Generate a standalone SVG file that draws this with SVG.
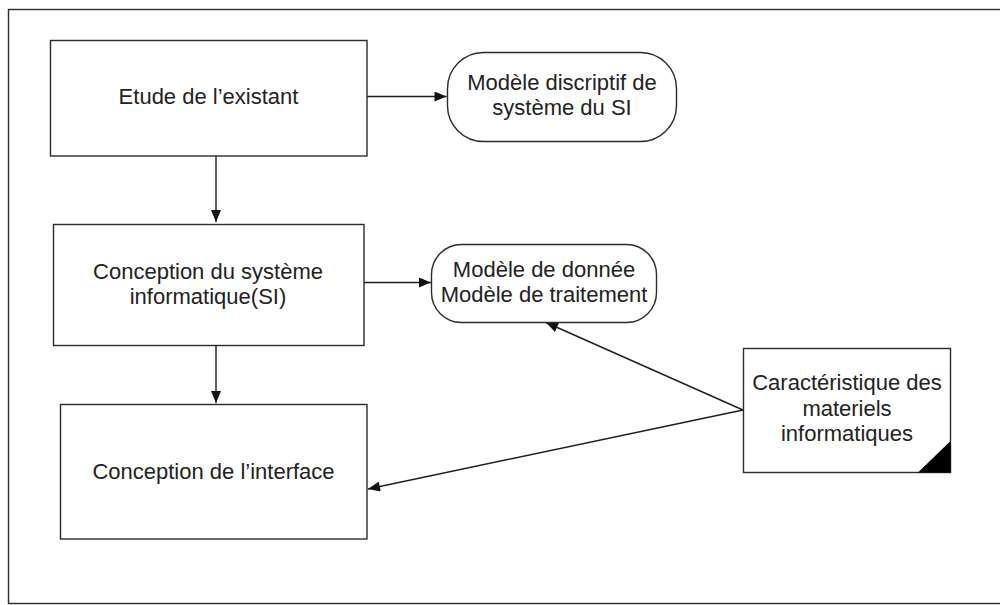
<svg xmlns="http://www.w3.org/2000/svg" width="1000" height="605" viewBox="0 0 1000 605">
  <style>
    .box { fill: #ffffff; stroke: #2b2b2b; stroke-width: 1.4; }
    .frame { fill: #ffffff; stroke: #2b2b2b; stroke-width: 1.4; }
    .lbl { font-family: "Liberation Sans", Arial, sans-serif; font-size: 22px; fill: #222222; text-anchor: middle; }
    .edge { fill: none; stroke: #1e1e1e; stroke-width: 1.4; }
  </style>
  <defs>
    <marker id="arrow" viewBox="0 0 12 10" refX="12" refY="5" markerWidth="13" markerHeight="10" markerUnits="userSpaceOnUse" orient="auto">
      <path d="M0,0 L12,5 L0,10 Z" fill="#111111"/>
    </marker>
  </defs>

  <!-- outer frame -->
  <rect class="frame" x="8.5" y="9.5" width="1000" height="594"/>

  <g id="connectors">
    <line class="edge" x1="367" y1="96.5" x2="446.5" y2="96.5" marker-end="url(#arrow)"/>
    <line class="edge" x1="216" y1="156" x2="216" y2="222" marker-end="url(#arrow)"/>
    <line class="edge" x1="364" y1="282.5" x2="431" y2="282.5" marker-end="url(#arrow)"/>
    <line class="edge" x1="216" y1="345.5" x2="216" y2="403" marker-end="url(#arrow)"/>
    <line class="edge" x1="743" y1="410" x2="546" y2="322.5" marker-end="url(#arrow)"/>
    <line class="edge" x1="743" y1="410" x2="368" y2="489" marker-end="url(#arrow)"/>
  </g>

  <g id="etude-existant">
    <rect class="box" x="50.5" y="40.5" width="316.5" height="115.5"/>
    <text class="lbl" x="208.5" y="104">Etude de l’existant</text>
  </g>

  <g id="modele-descriptif">
    <rect class="box" x="447.5" y="52.5" width="229" height="89" rx="36" ry="36"/>
    <text class="lbl" x="562" y="90">Modèle discriptif de</text>
    <text class="lbl" x="562" y="115">système du SI</text>
  </g>

  <g id="conception-si">
    <rect class="box" x="53.5" y="224.5" width="310.5" height="121"/>
    <text class="lbl" x="208" y="278.5">Conception du système</text>
    <text class="lbl" x="208" y="303.5">informatique(SI)</text>
  </g>

  <g id="modeles-donnee-traitement">
    <rect class="box" x="431.5" y="244.5" width="225" height="78" rx="30" ry="30"/>
    <text class="lbl" x="544" y="276.5">Modèle de donnée</text>
    <text class="lbl" x="544" y="302">Modèle de traitement</text>
  </g>

  <g id="conception-interface">
    <rect class="box" x="60.5" y="404.5" width="306.5" height="134.5"/>
    <text class="lbl" x="213.5" y="478.5">Conception de l’interface</text>
  </g>

  <g id="caracteristique-materiels">
    <rect class="box" x="743.5" y="348.5" width="207" height="124"/>
    <path d="M950.5,441 L950.5,472.5 L918,472.5 Z" fill="#000000"/>
    <text class="lbl" x="847" y="390">Caractéristique des</text>
    <text class="lbl" x="847" y="415.5">materiels</text>
    <text class="lbl" x="847" y="441">informatiques</text>
  </g>
</svg>
